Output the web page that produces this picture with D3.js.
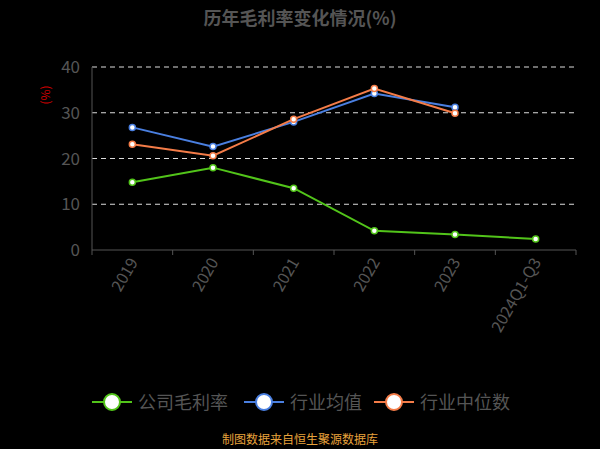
<!DOCTYPE html><html><head><meta charset="utf-8"><script src="https://cdn.jsdelivr.net/npm/d3@7"></script>
<style>body{margin:0;background:#000}svg{display:block}</style></head><body><svg id="c" width="600" height="449"></svg><script>
const categories=["2019","2020","2021","2022","2023","2024Q1-Q3"];
const company=[14.8,18.0,13.5,4.2,3.4,2.4];
const industryMean=[26.8,22.6,28.0,34.2,31.2,null];
const industryMedian=[23.1,20.6,28.6,35.3,29.9,null];
const yTicks=[0,10,20,30,40];
const series=[{name:"公司毛利率",data:company,color:"#52c41a"},{name:"行业均值",data:industryMean,color:"#4a7fe0"},{name:"行业中位数",data:industryMedian,color:"#f47c48"}];
const svg=d3.select("#c");
const x=d3.scaleBand().domain(categories).range([92,576]);
const y=d3.scaleLinear().domain([0,40]).range([250,67]);
const font="'Noto Sans CJK SC','Noto Sans',sans-serif";
svg.append("text").attr("x",300).attr("y",25).attr("text-anchor","middle").attr("fill","#555").attr("font-weight","bold").attr("font-size",18).attr("font-family",font).text("历年毛利率变化情况(%)");
yTicks.forEach(t=>{ if(t>0) svg.append("line").attr("x1",92).attr("x2",576).attr("y1",y(t)).attr("y2",y(t)).attr("stroke","#ddd").attr("stroke-dasharray","5,4");
 svg.append("text").attr("x",80).attr("y",y(t)+6).attr("text-anchor","end").attr("fill","#555").attr("font-size",17).attr("font-family",font).text(t);});
svg.append("line").attr("x1",92).attr("x2",92).attr("y1",67).attr("y2",250).attr("stroke","#555");
svg.append("line").attr("x1",92).attr("x2",576).attr("y1",250).attr("y2",250).attr("stroke","#555");
categories.forEach((c,i)=>{svg.append("line").attr("x1",x(c)).attr("x2",x(c)).attr("y1",250).attr("y2",255).attr("stroke","#555");
 const cx=x(c)+x.bandwidth()/2;
 svg.append("text").attr("transform",`translate(${cx+6},262) rotate(-60)`).attr("text-anchor","end").attr("fill","#555").attr("font-size",16).attr("font-family",font).text(c);});
svg.append("line").attr("x1",576).attr("x2",576).attr("y1",250).attr("y2",255).attr("stroke","#555");
svg.append("text").attr("transform","translate(50,95) rotate(-90)").attr("text-anchor","middle").attr("fill","#c00").attr("font-size",12).attr("font-family",font).text("(%)");
const line=d3.line().defined(d=>d!=null).x((d,i)=>x(categories[i])+x.bandwidth()/2).y(d=>y(d));
series.forEach(s=>{svg.append("path").attr("d",line(s.data)).attr("fill","none").attr("stroke",s.color).attr("stroke-width",2);
 s.data.forEach((d,i)=>{if(d==null)return;svg.append("circle").attr("cx",x(categories[i])+x.bandwidth()/2).attr("cy",y(d)).attr("r",3).attr("fill","#fff").attr("stroke",s.color).attr("stroke-width",1.5);});});
const lx=[92,244,374];
series.forEach((s,i)=>{const g=svg.append("g");
 g.append("line").attr("x1",lx[i]).attr("x2",lx[i]+40).attr("y1",402).attr("y2",402).attr("stroke",s.color).attr("stroke-width",2);
 g.append("circle").attr("cx",lx[i]+20).attr("cy",402).attr("r",8).attr("fill","#fff").attr("stroke",s.color).attr("stroke-width",2);
 g.append("text").attr("x",lx[i]+46).attr("y",409).attr("fill","#555").attr("font-size",18).attr("font-family",font).text(s.name);});
svg.append("text").attr("x",300).attr("y",444).attr("text-anchor","middle").attr("fill","#e8a33c").attr("font-size",12).attr("font-family",font).text("制图数据来自恒生聚源数据库");
</script></body></html>
